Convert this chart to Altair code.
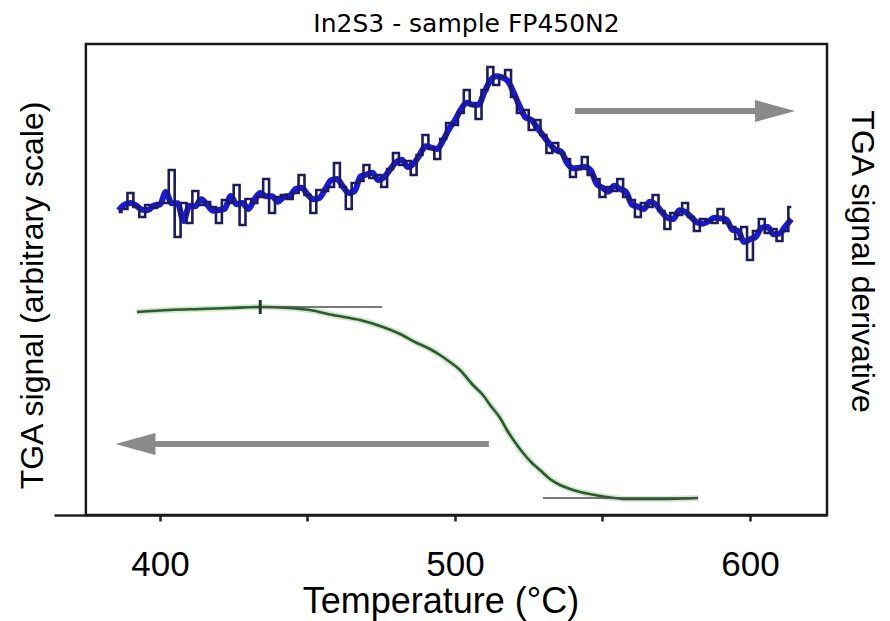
import altair as alt
import pandas as pd

# ---------------- data ----------------
temp_deriv = [386, 388, 390, 392, 394, 396, 398, 400, 402, 404,
              406, 408, 410, 412, 414, 416, 418, 420, 422, 424,
              426, 428, 430, 432, 434, 436, 438, 440, 442, 444,
              446, 448, 450, 452, 454, 456, 458, 460, 462, 464,
              466, 468, 470, 472, 474, 476, 478, 480, 482, 484,
              486, 488, 490, 492, 494, 496, 498, 500, 502, 504,
              506, 508, 510, 512, 514, 516, 518, 520, 522, 524,
              526, 528, 530, 532, 534, 536, 538, 540, 542, 544,
              546, 548, 550, 552, 554, 556, 558, 560, 562, 564,
              566, 568, 570, 572, 574, 576, 578, 580, 582, 584,
              586, 588, 590, 592, 594, 596, 598, 600, 602, 604,
              606, 608, 610, 612, 614]
deriv = [303, 306, 322, 308, 298, 310, 307, 312, 312, 345,
         278, 312, 292, 324, 310, 313, 308, 292, 315, 312,
         330, 290, 316, 312, 318, 336, 302, 318, 320, 316,
         322, 340, 320, 302, 325, 324, 328, 352, 328, 306,
         332, 334, 350, 337, 340, 328, 346, 362, 350, 354,
         340, 360, 380, 366, 356, 376, 392, 390, 402, 425,
         410, 396, 425, 448, 430, 438, 445, 418, 402, 405,
         385, 395, 380, 362, 372, 362, 356, 338, 346, 358,
         340, 336, 318, 328, 324, 336, 318, 315, 298, 312,
         308, 320, 304, 286, 302, 300, 312, 298, 284, 296,
         294, 292, 306, 292, 288, 276, 288, 255, 284, 296,
         282, 286, 274, 284, 308]

temp_tga = [392.2, 403.4, 413.6, 423.7, 433.9, 444.1, 450.8, 458.6, 467.8, 475.6,
            481.4, 487.1, 491.5, 494.9, 498.3, 501.7, 506.1, 509.5, 511.9, 515.3,
            517.6, 520.3, 523.1, 526.1, 528.8, 532.2, 535.6, 539.0, 542.4, 547.5,
            551.5, 558.3, 569.5, 582.4]
tga = [203, 205, 206, 207, 208, 207, 205, 200, 195, 188,
       181, 172, 166, 160, 153, 145, 130, 120, 110, 97,
       85, 73, 62, 52, 45, 36, 30, 26, 23, 20,
       18, 16, 16, 17]

# guide lines drawn on the TGA curve (start T, end T, level)
tangent_T = [434.0, 529.8]
tangent_T2 = [475.3, 582.4]
tangent_v = [208, 17]
marker_T = [434.0]
marker_v = [201]
marker_v2 = [215]

# arrows: shaft start, shaft end, level, head centre
arrow_T = [540.7, 398.0]
arrow_T2 = [602.0, 511.5]
arrow_v = [404, 71]
head_T = [608.5, 391.7]

frame_T = [374.9]
frame_T2 = [626.1]
frame_v = [0]
frame_v2 = [471]

x_ticks = [400, 450, 500, 550, 600]

# ---------------- tables ----------------
d_deriv = pd.DataFrame({"T": temp_deriv, "v": deriv})
d_tga = pd.DataFrame({"T": temp_tga, "v": tga})
d_tan = pd.DataFrame({"T": tangent_T, "T2": tangent_T2, "v": tangent_v})
d_mark = pd.DataFrame({"T": marker_T, "v": marker_v, "v2": marker_v2})
d_frame = pd.DataFrame({"T": frame_T, "T2": frame_T2, "v": frame_v, "v2": frame_v2})
d_shaft_r = pd.DataFrame({"T": [arrow_T[0]], "T2": [arrow_T2[0]], "v": [arrow_v[0]]})
d_shaft_l = pd.DataFrame({"T": [arrow_T[1]], "T2": [arrow_T2[1]], "v": [arrow_v[1]]})
d_head_r = pd.DataFrame({"T": [head_T[0]], "v": [arrow_v[0]]})
d_head_l = pd.DataFrame({"T": [head_T[1]], "v": [arrow_v[1]]})

LAB = "Liberation Sans"
xscale = alt.Scale(domain=[364.1, 626.1], nice=False, zero=False)
xaxis = alt.Axis(values=x_ticks,
                 labelExpr="datum.value % 100 == 0 ? datum.label : ''",
                 title="Temperature (°C)", titleFont=LAB, titleFontSize=36,
                 titleFontWeight="normal", titleColor="black", titlePadding=2,
                 labelFont=LAB, labelFontSize=35, labelColor="black", labelPadding=26,
                 tickSize=6, tickWidth=2.5, tickColor="#222",
                 domainColor="#222", domainWidth=2.5, grid=False)
X = alt.X("T:Q", scale=xscale, axis=xaxis)

yscale_l = alt.Scale(domain=[0, 471], nice=False, zero=False)
yscale_r = alt.Scale(domain=[0, 471], nice=False, zero=False)
yaxis_l = alt.Axis(orient="left", domain=False, ticks=False, labels=False, grid=False,
                   title="TGA signal (arbitrary scale)", titleFont=LAB, titleFontSize=32,
                   titleFontWeight="normal", titleColor="black", titleAngle=270,
                   titleX=-22, titleY=251, titleAlign="center", titleBaseline="middle")
yaxis_r = alt.Axis(orient="right", domain=False, ticks=False, labels=False, grid=False,
                   title="TGA signal derivative", titleFont=LAB, titleFontSize=32,
                   titleFontWeight="normal", titleColor="black", titleAngle=90,
                   titleX=34, titleY=217, titleAlign="center", titleBaseline="middle")
YL = alt.Y("v:Q", scale=yscale_l, axis=yaxis_l)
YR = alt.Y("v:Q", scale=yscale_r, axis=yaxis_r)

GRAY = "#8a8a8a"
right_path = "M-1,-0.55L1,0L-1,0.55Z"
left_path = "M1,-0.55L-1,0L1,0.55Z"

frame = alt.Chart(d_frame).mark_rect(fill=None, stroke="#1a1a1a", strokeWidth=2.5).encode(
    x=X, x2="T2:Q", y=YL, y2="v2:Q")
green_halo = alt.Chart(d_tga).mark_line(color="#cfe8cf", strokeWidth=6, interpolate="monotone").encode(
    x=X, y=YL)
green = alt.Chart(d_tga).mark_line(color="#2c5a2c", strokeWidth=2.6, interpolate="monotone").encode(
    x=X, y=YL)
tang = alt.Chart(d_tan).mark_rule(color="#4d4d4d", strokeWidth=1.6).encode(x=X, x2="T2:Q", y=YL)
mark = alt.Chart(d_mark).mark_rule(color="#263626", strokeWidth=3).encode(x=X, y=YL, y2="v2:Q")
shaft_l = alt.Chart(d_shaft_l).mark_rule(color=GRAY, strokeWidth=6).encode(x=X, x2="T2:Q", y=YL)
head_l = alt.Chart(d_head_l).mark_point(shape=left_path, size=1600, filled=True, color=GRAY, opacity=1).encode(
    x=X, y=YL)

left = alt.layer(frame, green_halo, green, tang, mark, shaft_l, head_l)

blue = alt.Chart(d_deriv).transform_window(
    vm="mean(v)", frame=[-1, 1]
).mark_line(color="#1818e0", strokeWidth=6, interpolate="monotone").encode(
    x=X, y=alt.Y("vm:Q", scale=yscale_r, axis=yaxis_r))
navy = alt.Chart(d_deriv).mark_line(color="#1c1c5e", strokeWidth=2.6, interpolate="step").encode(
    x=X, y=YR)
shaft_r = alt.Chart(d_shaft_r).mark_rule(color=GRAY, strokeWidth=6).encode(x=X, x2="T2:Q", y=YR)
head_r = alt.Chart(d_head_r).mark_point(shape=right_path, size=1600, filled=True, color=GRAY, opacity=1).encode(
    x=X, y=YR)

right = alt.layer(blue, navy, shaft_r, head_r)

chart = alt.layer(left, right).resolve_scale(y="independent").properties(
    width=773, height=471,
    background="white",
    autosize=alt.AutoSizeParams(type="none"),
    padding={"left": 46, "top": 36, "right": 55, "bottom": 106},
    title=alt.TitleParams("In2S3 - sample FP450N2", font="DejaVu Sans", fontSize=25,
                          fontWeight="normal", color="black", anchor="middle",
                          offset=6, dx=26),
).configure_view(stroke=None, strokeWidth=0)

chart.save("out.html", embed_options={"renderer": "svg", "actions": False})
